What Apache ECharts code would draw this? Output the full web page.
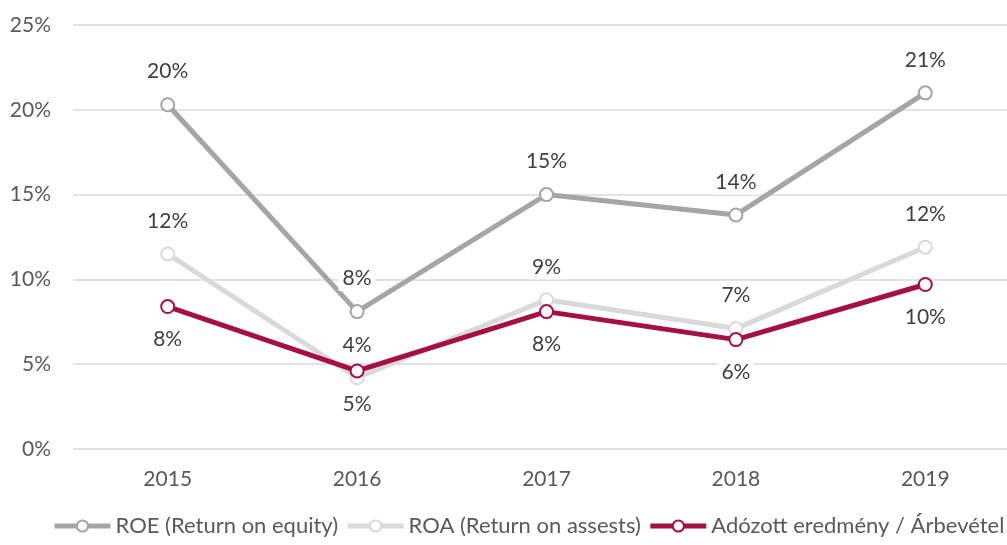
<!DOCTYPE html>
<html><head><meta charset="utf-8">
<script src="https://cdn.jsdelivr.net/npm/echarts@6/dist/echarts.min.js"></script>
<style>html,body{margin:0;padding:0;background:#fff}#c{width:1007px;height:545px}</style>
</head><body><div id="c"></div>
<script>
const years = ['2015','2016','2017','2018','2019'];
const roe = [20.3, 8.1, 15.0, 13.8, 21.0];
const roa = [11.5, 4.2, 8.8, 7.1, 11.9];
const profitRatio = [8.4, 4.6, 8.1, 6.45, 9.7];
const seriesNames = ['ROE (Return on equity)', 'ROA (Return on assests)', 'Adózott eredmény / Árbevétel'];
const yTicks = [0, 5, 10, 15, 20, 25];

const FONT = 'Lato';
const txt = '#595959';
function mk(name, data, color, pos) {
  return {
    name, type: 'line', data,
    symbol: 'circle', symbolSize: 13,
    lineStyle: { color, width: 5 },
    itemStyle: { color: '#fff', borderColor: color, borderWidth: 2 },
    label: {
      show: true, position: pos, distance: 13,
      formatter: p => Math.round(p.value) + '%',
      color: '#404040', fontFamily: FONT, fontSize: 21,
      backgroundColor: '#fff', padding: [2, 4]
    },
    emphasis: { disabled: true }
  };
}
const chart = echarts.init(document.getElementById('c'));
chart.setOption({
  animation: false,
  grid: { left: 73, width: 947, top: 25, height: 424, containLabel: false, outerBoundsMode: 'none' },
  xAxis: {
    type: 'category', data: years, boundaryGap: true,
    axisLine: { show: false }, axisTick: { show: false },
    axisLabel: { color: txt, fontFamily: FONT, fontSize: 21, margin: 20 }
  },
  yAxis: {
    type: 'value', min: yTicks[0], max: yTicks[yTicks.length - 1], interval: 5,
    axisLabel: { formatter: '{value}%', color: txt, fontFamily: FONT, fontSize: 21, margin: 22 },
    splitLine: { lineStyle: { color: '#d9d9d9', width: 1.5 } }
  },
  legend: {
    bottom: 3, left: 52, padding: [5, 0, 5, 0], itemWidth: 56, itemHeight: 14, itemGap: 7,
    lineStyle: { width: 5 },
    textStyle: { color: txt, fontFamily: FONT, fontSize: 22 },
    data: seriesNames
  },
  series: [
    mk(seriesNames[0], roe, '#A5A5A5', 'top'),
    mk(seriesNames[1], roa, '#D9D9D9', 'top'),
    mk(seriesNames[2], profitRatio, '#A50F45', 'bottom')
  ]
});
</script></body></html>
